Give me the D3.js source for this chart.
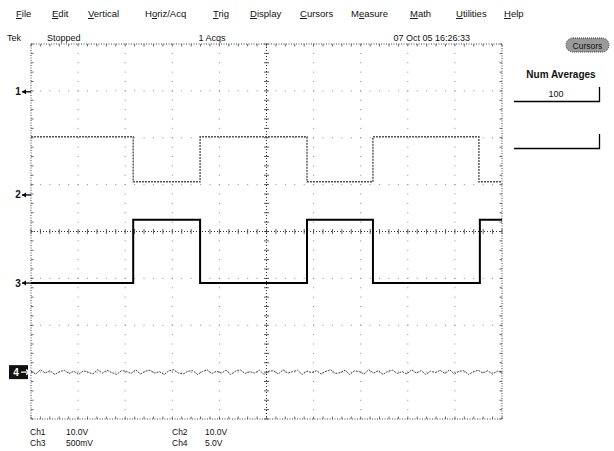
<!DOCTYPE html>
<html><head><meta charset="utf-8">
<script src="https://cdn.jsdelivr.net/npm/d3@7"></script>
<style>
body{margin:0;background:#fff}
svg{display:block}
text{font-family:"Liberation Sans",Arial,sans-serif;fill:#111}
</style>
</head><body>
<svg id="c" width="614" height="451"></svg>
<script>
// ---- data ----
const menuItems = ["File","Edit","Vertical","Horiz/Acq","Trig","Display","Cursors","Measure","Math","Utilities","Help"];
const menuUnderline = [0,0,0,1,0,0,0,1,0,0,0];
const statusTexts = ["Tek","Stopped","1 Acqs","07 Oct 05 16:26:33"];
const panelTitle = "Num Averages";
const panelValue = "100";
const chLabels = ["Ch1","Ch2","Ch3","Ch4"];
const chScales = ["10.0V","10.0V","500mV","5.0V"];
const markerLabels = ["1","2","3","4"];
const markerLevels = [2.98, 0.78, -1.10, -3.00];      // divisions
const ch1Edges = [2.17, 3.59, 5.86, 7.26, 9.51];       // divisions
const ch1Levels = [2.02, 1.06];                         // start high
const ch3Edges = [2.17, 3.59, 5.86, 7.26, 9.53];
const ch3Levels = [-1.10, 0.25];                        // start low
const ch4Base = -3.0;
const ch4Noise = [0.02,-0.04,0.05,-0.02,0.03,-0.05,0.01,0.04,-0.03,0.02,-0.05,0.03,0.00,-0.04,0.05,-0.02,0.04,-0.01,-0.05,0.03,
                  0.02,-0.03,0.05,-0.04,0.02,0.04,-0.02,0.01,-0.05,0.03,0.05,-0.02,-0.04,0.02,0.03,-0.05,0.01,0.05,-0.03,0.02,
                  -0.02,0.04,-0.05,0.02,0.05,-0.03,0.01,-0.02,0.04,-0.05,0.02,0.03,-0.04,0.05,-0.02,0.01,0.04,-0.05,0.02,-0.01,
                  0.03,-0.04,0.02,0.05,-0.03,-0.01,0.04,-0.05,0.03,0.01,-0.04,0.05,-0.02,0.03,-0.05,0.02,0.04,-0.03,0.01,-0.04,
                  0.05,-0.02,0.03,-0.05,0.02,-0.01,0.04,-0.03,0.05,-0.04,0.02,0.03,-0.05,0.01,0.04,-0.02,0.03,-0.04,0.02,0.01];

// ---- layout ----
const menuX = [16,52,88,145,213,250,300,351,410,456,504];
const svg = d3.select("#c");
const x = d3.scaleLinear().domain([0,10]).range([31,502]);
const y = d3.scaleLinear().domain([4,-4]).range([44,419]);

// menu bar
const menu = svg.append("g").attr("font-size",9.5);
menuItems.forEach((m,i)=>{
  const t = menu.append("text").attr("x",menuX[i]).attr("y",17);
  const u = menuUnderline[i];
  if(u>0) t.append("tspan").text(m.slice(0,u));
  t.append("tspan").attr("text-decoration","underline").text(m[u]);
  t.append("tspan").text(m.slice(u+1));
});
// status row
const st = svg.append("g").attr("font-size",9);
st.append("text").attr("x",7).attr("y",41).text(statusTexts[0]);
st.append("text").attr("x",47).attr("y",41).text(statusTexts[1]);
st.append("text").attr("x",212).attr("y",41).attr("text-anchor","middle").text(statusTexts[2]);
st.append("text").attr("x",470).attr("y",41).attr("text-anchor","end").text(statusTexts[3]);

// grid dots
const g = svg.append("g");
const step = 0.2;
const ys = d3.range(-4, 4.0001, step);
const xs = d3.range(0, 10.0001, step);
for(let i=1;i<10;i++){ if(i===5) continue;
  ys.forEach(v=>g.append("rect").attr("x",x(i)-0.5).attr("y",y(v)-0.5).attr("width",1).attr("height",1).attr("fill","#888"));
}
for(let j=-3;j<=3;j++){ if(j===0) continue;
  xs.forEach(v=>g.append("rect").attr("x",x(v)-0.5).attr("y",y(j)-0.5).attr("width",1).attr("height",1).attr("fill","#888"));
}
// center crosshair
g.append("line").attr("x1",x(5)).attr("x2",x(5)).attr("y1",y(4)).attr("y2",y(-4)).attr("stroke","#333").attr("stroke-dasharray","1,2");
g.append("line").attr("x1",x(0)).attr("x2",x(10)).attr("y1",y(0)).attr("y2",y(0)).attr("stroke","#333").attr("stroke-dasharray","1,2");
ys.forEach(v=>g.append("line").attr("x1",x(5)-2.5).attr("x2",x(5)+2.5).attr("y1",y(v)).attr("y2",y(v)).attr("stroke","#333").attr("stroke-width",0.8));
xs.forEach(v=>g.append("line").attr("y1",y(0)-2.5).attr("y2",y(0)+2.5).attr("x1",x(v)).attr("x2",x(v)).attr("stroke","#333").attr("stroke-width",0.8));
// border
g.append("rect").attr("x",x(0)).attr("y",y(4)).attr("width",x(10)-x(0)).attr("height",y(-4)-y(4))
  .attr("fill","none").attr("stroke","#444").attr("stroke-dasharray","1,1.5");
xs.forEach(v=>{
  g.append("line").attr("x1",x(v)).attr("x2",x(v)).attr("y1",y(4)).attr("y2",y(4)+2.5).attr("stroke","#444").attr("stroke-width",0.8);
  g.append("line").attr("x1",x(v)).attr("x2",x(v)).attr("y1",y(-4)).attr("y2",y(-4)-2.5).attr("stroke","#444").attr("stroke-width",0.8);
});
ys.forEach(v=>{
  g.append("line").attr("x1",x(0)).attr("x2",x(0)+2.5).attr("y1",y(v)).attr("y2",y(v)).attr("stroke","#444").attr("stroke-width",0.8);
  g.append("line").attr("x1",x(10)).attr("x2",x(10)-2.5).attr("y1",y(v)).attr("y2",y(v)).attr("stroke","#444").attr("stroke-width",0.8);
});

// traces
function stepPoints(edges, levels){
  const pts=[[0,levels[0]]];
  edges.forEach((e,i)=>pts.push([e, levels[(i+1)%2]]));
  pts.push([10, levels[edges.length%2]]);
  return pts;
}
const line = d3.line().x(d=>x(d[0])).y(d=>y(d[1])).curve(d3.curveStepAfter);
svg.append("path").attr("d",line(stepPoints(ch1Edges,ch1Levels)))
  .attr("fill","none").attr("stroke","#555").attr("stroke-width",1.4).attr("stroke-dasharray","2,1");
svg.append("path").attr("d",line(stepPoints(ch3Edges,ch3Levels)))
  .attr("fill","none").attr("stroke","#000").attr("stroke-width",2);
const line4 = d3.line().x(d=>x(d[0])).y(d=>y(d[1]));
const ch4Pts = ch4Noise.map((n,i)=>[i*10/(ch4Noise.length-1), ch4Base+n]);
svg.append("path").attr("d",line4(ch4Pts)).attr("fill","none").attr("stroke","#444").attr("stroke-width",1).attr("stroke-dasharray","2,1");

// channel markers
markerLabels.forEach((lab,i)=>{
  const yy = y(markerLevels[i]);
  if(i===3){
    svg.append("rect").attr("x",9).attr("y",yy-7).attr("width",19).attr("height",14).attr("fill","#111");
    svg.append("text").attr("x",16).attr("y",yy+3.5).attr("font-size",10).attr("font-weight","bold").attr("text-anchor","middle").style("fill","#fff").text(lab);
    svg.append("path").attr("d",`M21,${yy}L30,${yy}M26,${yy-2.5}L30,${yy}L26,${yy+2.5}`).attr("stroke","#fff").attr("fill","none").attr("stroke-width",1.2);
  } else {
    svg.append("text").attr("x",18).attr("y",yy+3.5).attr("font-size",10).attr("font-weight","bold").attr("text-anchor","middle").text(lab);
    svg.append("path").attr("d",`M22,${yy}L31,${yy}`).attr("stroke","#000").attr("stroke-width",1.3);
    svg.append("path").attr("d",`M22,${yy}L26,${yy-2.5}L26,${yy+2.5}Z`).attr("fill","#000");
  }
});

// right panel
svg.append("rect").attr("x",566).attr("y",38).attr("width",43).attr("height",14).attr("rx",7)
  .attr("fill","#999").attr("stroke","#333").attr("stroke-dasharray","1,1");
svg.append("text").attr("x",587.5).attr("y",48.5).attr("font-size",8.5).attr("text-anchor","middle").text("Cursors");
svg.append("text").attr("x",561).attr("y",78).attr("font-size",10).attr("font-weight","bold").attr("text-anchor","middle").text(panelTitle);
svg.append("text").attr("x",556).attr("y",97).attr("font-size",9).attr("text-anchor","middle").text(panelValue);
svg.append("path").attr("d","M514,101.5H599.5V87").attr("fill","none").attr("stroke","#000").attr("stroke-width",1.3);
svg.append("path").attr("d","M514,148.5H599.5V134").attr("fill","none").attr("stroke","#000").attr("stroke-width",1.3);

// bottom channel scales
const bt = svg.append("g").attr("font-size",8.5);
const bx = [[30,66],[172,205]];
chLabels.forEach((c,i)=>{
  const col = (i===1||i===3)?1:0, row = (i>=2)?1:0;
  bt.append("text").attr("x",bx[col][0]).attr("y",435+row*11).text(c);
  bt.append("text").attr("x",bx[col][1]).attr("y",435+row*11).text(chScales[i]);
});
</script>
</body></html>
